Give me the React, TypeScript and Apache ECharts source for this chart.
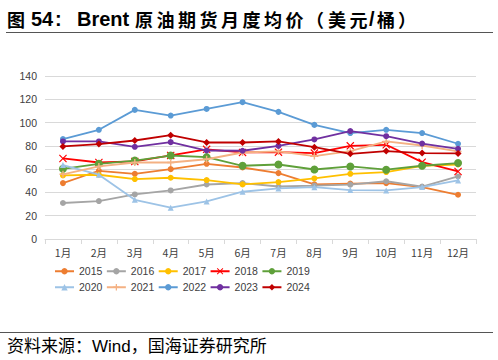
import React, { useEffect, useRef } from "react";
import * as echarts from "echarts";

const months = ["1月", "2月", "3月", "4月", "5月", "6月", "7月", "8月", "9月", "10月", "11月", "12月"];
const years = ["2015", "2016", "2017", "2018", "2019", "2020", "2021", "2022", "2023", "2024"];

const y2015 = [48.0, 58.6, 56.0, 60.0, 64.6, 61.4, 56.6, 46.9, 47.6, 48.0, 44.6, 38.0];
const y2016 = [30.9, 32.6, 38.3, 41.7, 46.8, 48.0, 45.1, 45.8, 46.7, 49.6, 45.0, 53.7];
const y2017 = [54.6, 55.2, 51.5, 52.6, 50.6, 46.9, 48.9, 52.0, 56.0, 57.5, 62.9, 64.0];
const y2018 = [69.2, 65.7, 66.6, 71.8, 77.0, 74.4, 74.6, 73.8, 80.0, 80.9, 66.0, 58.0];
const y2019 = [60.3, 64.6, 67.4, 71.7, 70.3, 62.9, 64.0, 59.7, 62.3, 59.5, 62.9, 65.2];
const y2020 = [63.5, 55.2, 33.7, 26.9, 32.3, 40.6, 43.4, 44.5, 42.0, 41.7, 44.6, 50.3];
const y2021 = [55.6, 62.3, 65.7, 65.7, 68.5, 74.3, 75.2, 71.2, 75.5, 83.8, 80.3, 75.2];
const y2022 = [85.8, 93.8, 110.9, 106.0, 111.7, 117.5, 109.2, 98.0, 91.0, 93.8, 91.0, 81.8];
const y2023 = [83.8, 83.8, 79.2, 83.2, 76.0, 75.8, 80.0, 85.5, 92.7, 88.3, 82.0, 77.5];
const y2024 = [79.5, 81.5, 84.6, 89.2, 82.9, 82.9, 83.8, 78.9, 73.2, 75.5, 73.8, 73.5];

const yTicks = { min: 0, max: 140, interval: 20 };

const titlePieces: [string, number][] = [
  ["图", 7], ["54", 31], [":", 55], ["Brent", 77],
  ["原", 135], ["油", 156.5], ["期", 178], ["货", 199.5], ["月", 221], ["度", 242.5], ["均", 264], ["价", 285.5],
  ["（", 306], ["美", 328], ["元", 349.5], ["/", 369], ["桶", 377], ["）", 398],
];
const sourceText = "资料来源：Wind，国海证券研究所";

const seriesData = [y2015, y2016, y2017, y2018, y2019, y2020, y2021, y2022, y2023, y2024];
const colors = ["#ED7D31", "#A5A5A5", "#FFC000", "#FF0000", "#5FA03A", "#9DC3E6", "#F4B183", "#5B9BD5", "#7030A0", "#C00000"];
const xMark = "path://M1,0L5,4L9,0L10,1L6,5L10,9L9,10L5,6L1,10L0,9L4,5L0,1Z";
const plusMark = "path://M4,0H6V4H10V6H6V10H4V6H0V4H4Z";
const symbols = ["circle", "circle", "circle", xMark, "circle", "triangle", plusMark, "circle", "circle", "diamond"];
const sizes = [6, 6, 6, 8, 8, 6, 7, 6, 6, 7];

export default function App() {
  const ref = useRef<HTMLDivElement>(null);
  useEffect(() => {
    if (!ref.current) return;
    const chart = echarts.init(ref.current, undefined, { renderer: "svg" });
    const fontFamily = "'Liberation Sans', 'Noto Sans CJK SC', sans-serif";
    const legendCommon = {
      left: 49,
      itemWidth: 19,
      itemHeight: 8,
      itemGap: 3.5,
      textStyle: { fontSize: 10.5, color: "#404040", fontFamily, width: 59 },
    };
    chart.setOption({
      animation: false,
      backgroundColor: "#ffffff",
      textStyle: { fontFamily },
      grid: { left: 45, right: 22, top: 76, bottom: 121, containLabel: false },
      legend: [
        { ...legendCommon, top: 261, data: years.slice(0, 5) },
        { ...legendCommon, top: 277, data: years.slice(5) },
      ],
      xAxis: {
        type: "category",
        data: months,
        boundaryGap: true,
        axisLine: { lineStyle: { color: "#D9D9D9", width: 1 } },
        axisTick: { show: true, length: 5, lineStyle: { color: "#D9D9D9" } },
        axisLabel: { color: "#404040", fontSize: 10.5, margin: 8, fontFamily: "'Noto Sans CJK SC', sans-serif" },
      },
      yAxis: {
        type: "value",
        min: yTicks.min,
        max: yTicks.max,
        interval: yTicks.interval,
        axisLine: { show: false },
        axisTick: { show: false },
        splitLine: { lineStyle: { color: "#D9D9D9", width: 1 } },
        axisLabel: { color: "#404040", fontSize: 10.5, margin: 8 },
      },
      series: seriesData.map((d, i) => ({
        name: years[i],
        type: "line",
        data: d,
        color: colors[i],
        symbol: symbols[i],
        symbolSize: sizes[i],
        lineStyle: { width: 1.8, color: colors[i] },
        itemStyle: { color: colors[i] },
        z: 2 + i,
      })),
      graphic: [
        ...titlePieces.map(([t, x]) => {
          const latin = /[A-Za-z0-9:/]/.test(t);
          return {
            type: "text",
            x,
            y: 18.5,
            style: {
              text: t,
              fontSize: latin ? 20 : 18,
              fontWeight: "bold",
              fill: "#000",
              verticalAlign: "middle",
              fontFamily: latin ? "'Liberation Sans', sans-serif" : "'Noto Sans CJK SC', sans-serif",
            },
          };
        }),
        {
          type: "line",
          shape: { x1: 6, y1: 32.5, x2: 493, y2: 32.5 },
          style: { stroke: "#555", lineWidth: 1.2 },
        },
        {
          type: "line",
          shape: { x1: 0, y1: 332.5, x2: 493, y2: 332.5 },
          style: { stroke: "#555", lineWidth: 1.2 },
        },
        {
          type: "text",
          x: 7,
          y: 346,
          style: {
            text: sourceText,
            fontSize: 17,
            fill: "#000",
            verticalAlign: "middle",
            fontFamily: "'Liberation Sans', 'Noto Sans CJK SC', sans-serif",
          },
        },
      ],
    });
    return () => chart.dispose();
  }, []);
  return (
    <div
      ref={ref}
      style={{ position: "absolute", left: 0, top: 0, width: 498, height: 360 }}
    />
  );
}
